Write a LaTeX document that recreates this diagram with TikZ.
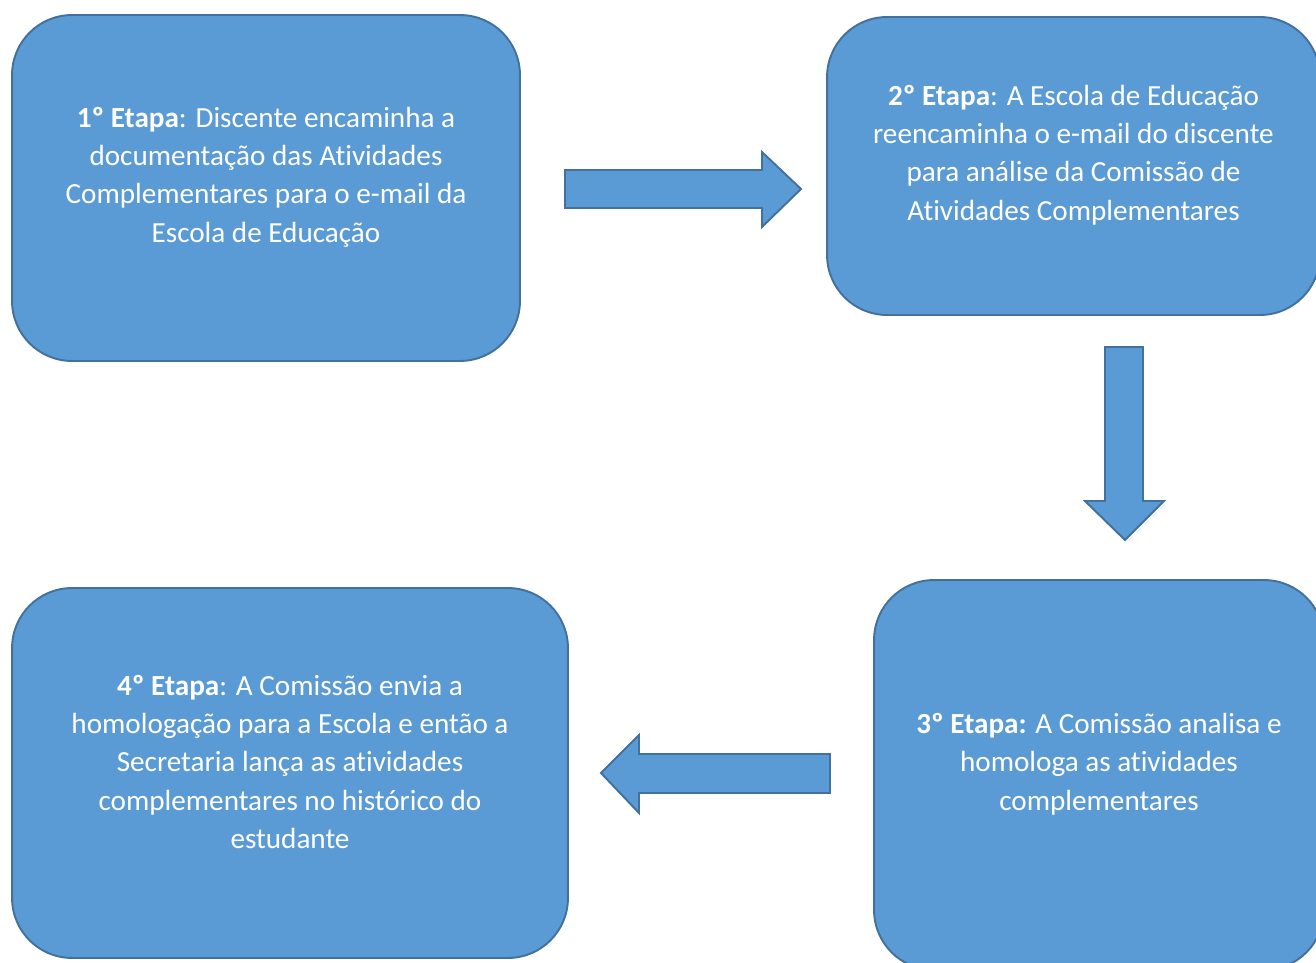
\documentclass[tikz,border=0pt]{standalone}
\usepackage{fontspec}
\setmainfont{Carlito}[RawFeature=-liga]
\definecolor{caixa}{HTML}{5B9BD5}
\definecolor{borda}{HTML}{41719C}
\tikzset{
  etapa/.style={draw=borda, fill=caixa, line width=1.1pt, rounded corners=1.2cm, rectangle},
  rotulo/.style={text=white, align=center, font=\fontsize{16.6}{21.8}\selectfont},
  seta/.style={draw=borda, fill=caixa, line width=1.1pt}
}
\begin{document}
\begin{tikzpicture}[x=0.02cm, y=-0.02cm]
            \clip (0,0) rectangle (1316,963);
            \fill[white] (0,0) rectangle (1316,963);

            % Boxes
            \node[etapa, minimum width=10.16cm, minimum height=6.92cm] (e1) at (266,188) {};
            \node[etapa, minimum width=9.86cm, minimum height=5.96cm] (e2) at (1073.5,166) {};
            \node[etapa, minimum width=9.0cm, minimum height=7.8cm] (e3) at (1099,775) {};
            \node[etapa, minimum width=11.12cm, minimum height=7.4cm] (e4) at (290,773) {};

            % Texts
            \node[rotulo] (t1) at ([yshift=0.22cm]e1.center) {\textbf{1º Etapa}: Discente encaminha a\\documentação das Atividades\\Complementares para o e-mail da\\Escola de Educação};
            \node[rotulo] (t2) at ([yshift=0.22cm]e2.center) {\textbf{2º Etapa}: A Escola de Educação\\reencaminha o e-mail do discente\\para análise da Comissão de\\Atividades Complementares};
            \node[rotulo] (t3) at ([yshift=0.22cm]e3.center) {\textbf{3º Etapa:} A Comissão analisa e\\homologa as atividades\\complementares};
            \node[rotulo] (t4) at ([yshift=0.22cm]e4.center) {\textbf{4º Etapa}: A Comissão envia a\\homologação para a Escola e então a\\Secretaria lança as atividades\\complementares no histórico do\\estudante};

            % Block arrows
            \draw[seta] (565,170) -- (762,170) -- (762,152) -- (801,189) -- (762,227) -- (762,208) -- (565,208) -- cycle;
            \draw[seta] (1105,347) -- (1143,347) -- (1143,501) -- (1164,501) -- (1125,540) -- (1085,501) -- (1105,501) -- cycle;
            \draw[seta] (830,754) -- (639,754) -- (639,735) -- (601,773) -- (639,813) -- (639,793) -- (830,793) -- cycle;
\end{tikzpicture}
\end{document}
